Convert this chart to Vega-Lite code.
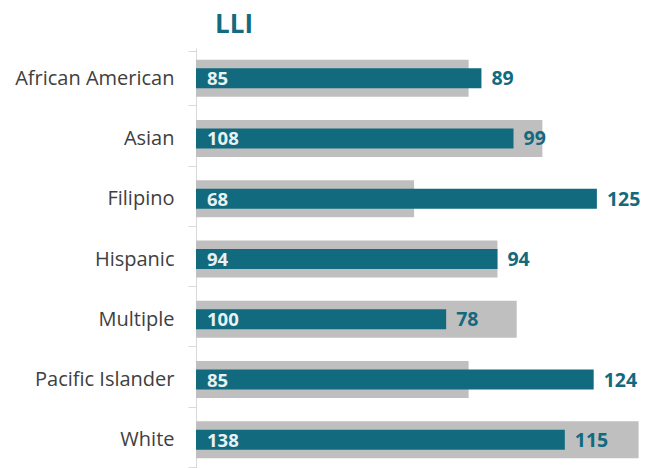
{
  "$schema": "https://vega.github.io/schema/vega-lite/v6.json",
  "width": 449,
  "height": 422,
  "autosize": {"type": "none"},
  "padding": {"left": 196, "top": 48, "right": 0, "bottom": 0},
  "background": "white",
  "config": {"view": {"stroke": null}, "font": "Open Sans"},
  "title": {
    "text": "LLI",
    "anchor": "start",
    "frame": "group",
    "dx": 19,
    "offset": 0,
    "fontSize": 26,
    "fontWeight": "bold",
    "color": "#146B80",
    "font": "Open Sans"
  },
  "data": {
    "values": [
      {"group": "African American", "base": 85, "value": 89},
      {"group": "Asian", "base": 108, "value": 99},
      {"group": "Filipino", "base": 68, "value": 125},
      {"group": "Hispanic", "base": 94, "value": 94},
      {"group": "Multiple", "base": 100, "value": 78},
      {"group": "Pacific Islander", "base": 85, "value": 124},
      {"group": "White", "base": 138, "value": 115}
    ]
  },
  "encoding": {
    "y": {
      "field": "group",
      "type": "nominal",
      "sort": null,
      "title": null,
      "axis": {
        "labelFontSize": 20,
        "labelColor": "#404040",
        "labelFont": "Open Sans",
        "labelPadding": 14,
        "labelLimit": 300,
        "tickSize": 8,
        "tickColor": "#d9d9d9",
        "domainColor": "#d9d9d9",
        "tickBand": "extent",
        "grid": false
      }
    }
  },
  "layer": [
    {
      "mark": {"type": "bar", "color": "#BFBFBF", "size": 37},
      "encoding": {
        "x": {"field": "base", "type": "quantitative", "scale": {"domain": [0, 140], "nice": false}, "axis": null}
      }
    },
    {
      "mark": {"type": "bar", "color": "#126A7F", "size": 20},
      "encoding": {
        "x": {"field": "value", "type": "quantitative"}
      }
    },
    {
      "mark": {"type": "text", "align": "left", "baseline": "middle", "dx": 11, "dy": 1, "fontSize": 18.5, "fontWeight": "bold", "color": "#E8F1F3", "font": "Open Sans"},
      "encoding": {
        "x": {"datum": 0, "type": "quantitative"},
        "text": {"field": "base"}
      }
    },
    {
      "mark": {"type": "text", "align": "left", "baseline": "middle", "dx": 10, "dy": 1, "fontSize": 19.5, "fontWeight": "bold", "color": "#126A7F", "font": "Open Sans"},
      "encoding": {
        "x": {"field": "value", "type": "quantitative"},
        "text": {"field": "value"}
      }
    }
  ]
}
